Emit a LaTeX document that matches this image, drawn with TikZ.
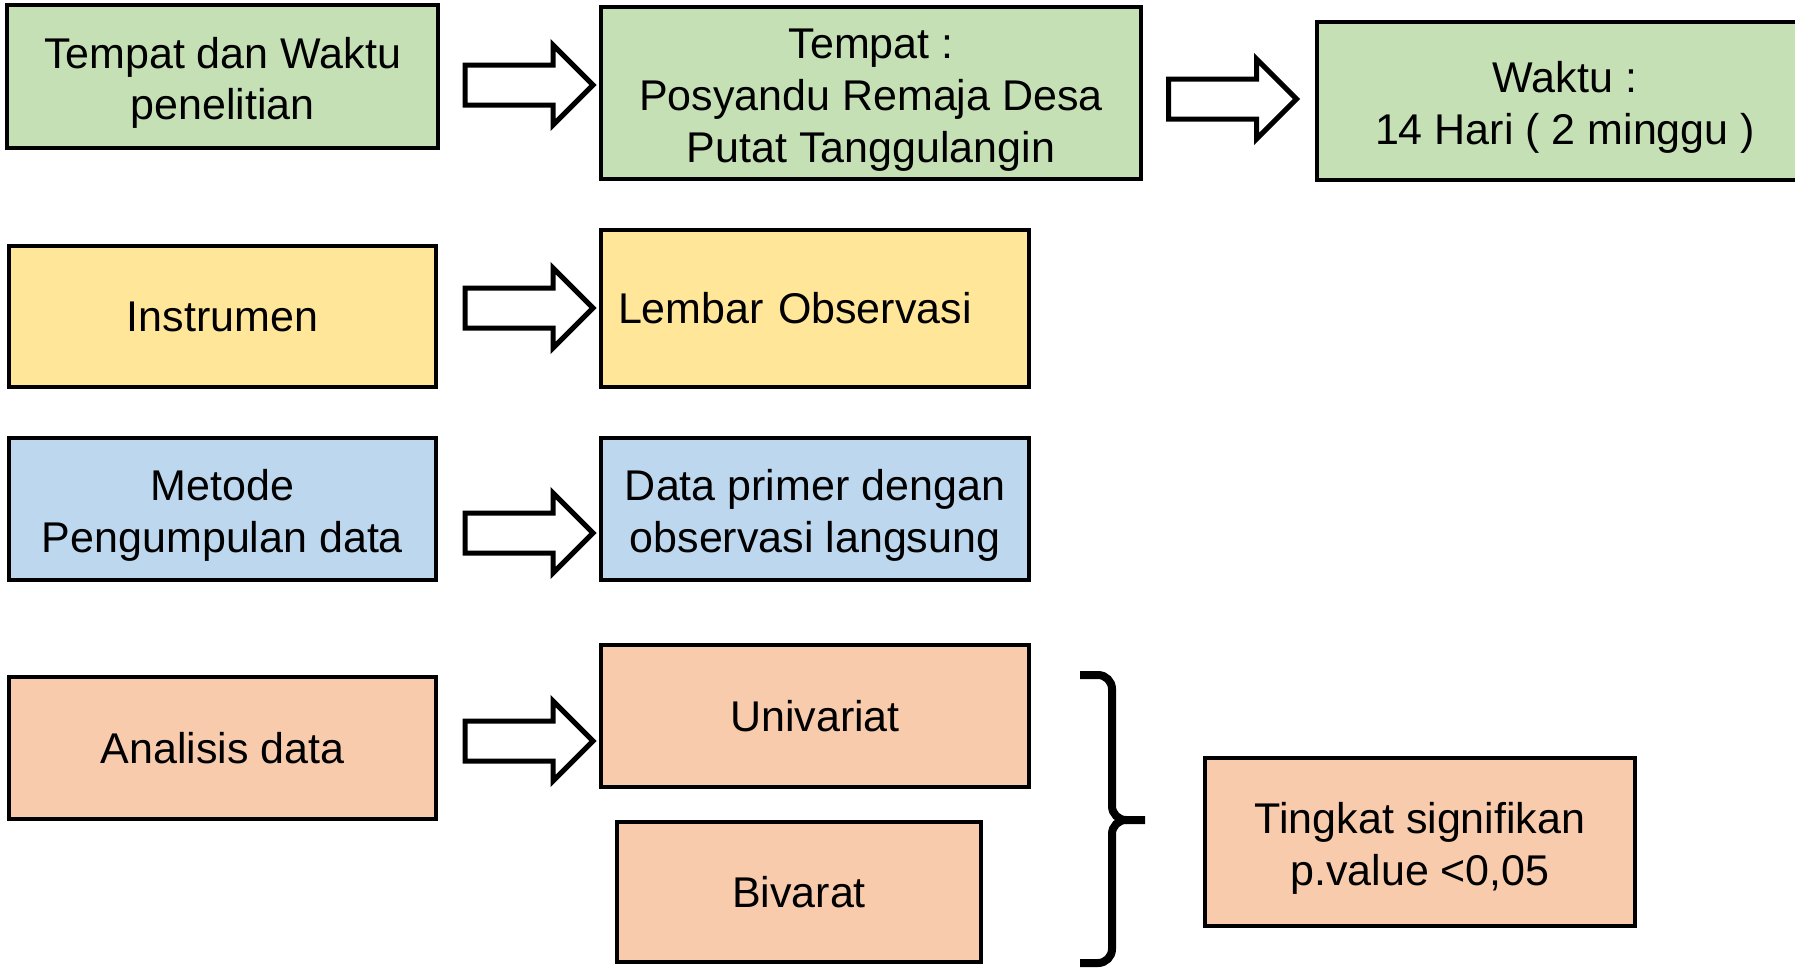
\documentclass[tikz,border=0pt]{standalone}
\usepackage{fontspec}
\setmainfont{Liberation Sans}
\usetikzlibrary{shapes.arrows}
\definecolor{boxgreen}{HTML}{C5E0B4}
\definecolor{boxyellow}{HTML}{FFE699}
\definecolor{boxblue}{HTML}{BDD7EE}
\definecolor{boxorange}{HTML}{F8CBAD}
\newcommand{\topstrut}{\rule{0pt}{22pt}}
\tikzset{
	box/.style={draw, line width=2pt, align=center, inner sep=0pt, font=\fontsize{21.5}{25.8}\selectfont},
	greenbox/.style={box, fill=boxgreen},
	yellowbox/.style={box, fill=boxyellow},
	bluebox/.style={box, fill=boxblue},
	orangebox/.style={box, fill=boxorange},
	blockarrow/.style={single arrow, draw, line width=2.5pt, fill=white, minimum height=64pt, inner xsep=0pt, inner ysep=8.75pt, single arrow head extend=10pt},
}
\begin{document}
\begin{tikzpicture}[x=0.5pt, y=-0.5pt]
	\useasboundingbox (0,0) rectangle (1795,969);
	\node (tw) at (222.5,76.5) [greenbox, minimum width=215.5pt, minimum height=71.5pt] {\topstrut Tempat dan Waktu\\penelitian};
	\node (tempat) at (871,93) [greenbox, minimum width=270pt, minimum height=86pt] {\topstrut Tempat :\\Posyandu Remaja Desa\\Putat Tanggulangin};
	\node (waktu) at (1565,101) [greenbox, minimum width=248pt, minimum height=79pt] {\topstrut Waktu :\\14 Hari ( 2 minggu )};
	
	\node (instr) at (222.5,316.5) [yellowbox, minimum width=213.5pt, minimum height=70.5pt] {Instrumen};
	\node (lembar) at (815,308.5) [yellowbox, text width=197pt, inner xsep=8.5pt, align=left, minimum height=78.5pt] {Lembar Observasi};
	
	\node (metode) at (222.5,509) [bluebox, minimum width=213.5pt, minimum height=71pt] {\topstrut Metode\\Pengumpulan data};
	\node (primer) at (815,509) [bluebox, minimum width=214pt, minimum height=71pt] {\topstrut Data primer dengan\\observasi langsung};
	
	\node (analisis) at (222.5,748) [orangebox, minimum width=213.5pt, minimum height=71pt] {Analisis data};
	\node (univ) at (815,716) [orangebox, minimum width=214pt, minimum height=71pt] {Univariat};
	\node (bivar) at (799,892) [orangebox, minimum width=182pt, minimum height=70pt] {Bivarat};
	\node (tingkat) at (1420,842) [orangebox, minimum width=215pt, minimum height=84pt] {\topstrut Tingkat signifikan\\p.value <0,05};
	
	\node (a1) at (519,85) [blockarrow] {};
	\node (a2) at (1222.5,99) [blockarrow] {};
	\node (a3) at (519,308) [blockarrow] {};
	\node (a4) at (519,533) [blockarrow] {};
	\node (a5) at (519,741) [blockarrow] {};
	
	% brace
	\draw [line width=4pt] (1080,675) -- (1098,675) to[out=0,in=90] (1112,689) -- (1112,806) to[out=-90,in=180] (1126,820) -- (1145,820);
	\draw [line width=4pt] (1126,820) to[out=180,in=90] (1112,834) -- (1112,949) to[out=-90,in=0] (1098,963) -- (1080,963);
\end{tikzpicture}
\end{document}
